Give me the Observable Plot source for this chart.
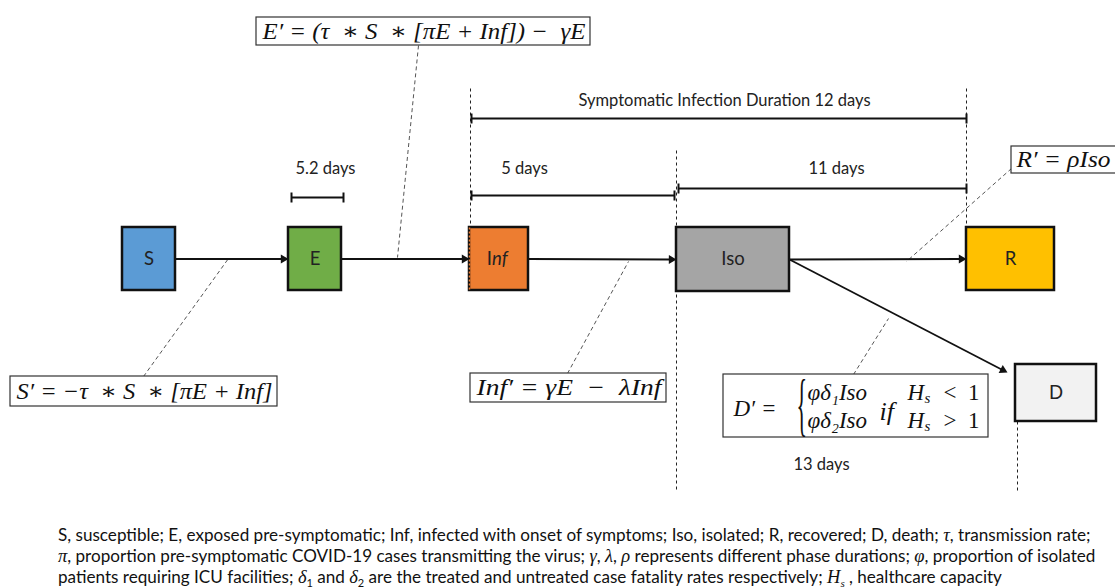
<!DOCTYPE html>
<html><head><meta charset="utf-8">
<script src="https://cdn.jsdelivr.net/npm/d3@7"></script>
<script src="https://cdn.jsdelivr.net/npm/@observablehq/plot@0.6"></script>
<style>
body{margin:0;background:#fff;overflow:hidden}
#chart svg{display:block}
#cap{font-family:Lato,"Open Sans",sans-serif;font-size:17.1px;padding:9px 0 0 58px;color:#111;white-space:nowrap}
#cap div{height:21px;line-height:21px}
#cap i{font-family:"Liberation Serif",serif;font-size:18.5px;line-height:1}
#cap sub{font-size:11px;line-height:0;vertical-align:baseline;position:relative;top:0.35em}
</style></head><body><div id="chart"></div><div id="cap"></div>
<script>
// ---- data ----
const compartments = ["S", "E", "Inf", "Iso", "R", "D"];
const compartmentColors = ["#5B9BD5", "#70AD47", "#ED7D31", "#A5A5A5", "#FFC000", "#F2F2F2"];
const boxLeft   = [122, 288, 469, 676, 966, 1015];
const boxRight  = [175, 341, 528, 789, 1054, 1096];
const boxTop    = [227, 227, 227, 227, 227, 364];
const boxBottom = [290, 290, 290, 291, 290, 421];

const flowFrom = ["S", "E", "Inf", "Iso", "Iso"];
const flowTo   = ["E", "Inf", "Iso", "R", "D"];

const durationLabels = ["5.2 days", "Symptomatic Infection Duration 12 days", "5 days", "11 days", "13 days"];
const durationLabelX = [325, 724, 524, 836, 821];
const durationLabelY = [168, 100, 168, 168, 464];
const barStart = [291, 471, 471, 678];
const barEnd   = [343, 966, 674, 966];
const barY     = [197, 118, 195, 188];

const guideX  = [470, 676, 966, 1017];
const guideY1 = [88, 150, 88, 421];
const guideY2 = [290, 490, 227, 490];

const equations = ["E′ = (τ  ∗ S  ∗ [πE + Inf]) −  γE", "S′ = −τ  ∗ S  ∗ [πE + Inf]", "Inf′ = γE  −  λInf", "R′ = ρIso"];
const eqWidths = [323, 256, 185, 94];
const eqBoxX1 = [256, 10, 470, 1011];
const eqBoxX2 = [590, 277, 666, 1130];
const eqBoxY1 = [17, 376, 373, 146];
const eqBoxY2 = [45, 406, 402, 173];
const eqTextX = [262, 16, 476, 1016];

const dBox = {x1: 723, x2: 988, y1: 374, y2: 437};
// D′ equation pieces
const dLeft = ["D′ =", "φδ₁Iso", "φδ₂Iso", "H", "H"];
const dLeftX = [733, 807, 807, 907, 907];
const dLeftY = [408, 392, 420, 392, 420];
const dIf = {t: "if", x: 879, y: 411};
const dSub = ["s", "s"];
const dSubX = [924, 924];
const dSubY = [398, 426];
const dRight = ["<  1", ">  1"];
const dRightX = [979, 979];
const dRightY = [392, 420];
const dBrace = {t: "{", x: 796, y: 405};

const leaderX1 = [418, 143, 567, 853, 1011];
const leaderY1 = [45, 376, 373, 374, 168];
const leaderX2 = [397, 228, 628, 888, 906];
const leaderY2 = [257, 258, 261, 318, 261];

const captionLines = [
  "S, susceptible; E, exposed pre-symptomatic; Inf, infected with onset of symptoms; Iso, isolated; R, recovered; D, death; <i>τ</i>, transmission rate;",
  "<i>π</i>, proportion pre-symptomatic COVID-19 cases transmitting the virus; <i>γ</i>, <i>λ</i>, <i>ρ</i> represents different phase durations; <i>φ</i>, proportion of isolated",
  "patients requiring ICU facilities; <i>δ</i><sub>1</sub> and <i>δ</i><sub>2</sub> are the treated and untreated case fatality rates respectively; <i>H<sub>s</sub></i> , healthcare capacity"
];

// ---- tables ----
const nodes = compartments.map((id, i) => ({id, fill: compartmentColors[i], x1: boxLeft[i], x2: boxRight[i], y1: boxTop[i], y2: boxBottom[i],
  cx: (boxLeft[i] + boxRight[i]) / 2, cy: (boxTop[i] + boxBottom[i]) / 2}));
const byId = Object.fromEntries(nodes.map(n => [n.id, n]));
const flows = flowFrom.map((f, i) => {
  const a = byId[f], b = byId[flowTo[i]];
  let x1 = a.x2, y1 = a.cy, x2 = b.x1, y2 = b.cy;
  if (b.y1 > a.y2) { x2 = b.x1 - 8; y2 = b.y1 + 8; }
  const L = Math.hypot(x2 - x1, y2 - y1), ux = (x2 - x1) / L, uy = (y2 - y1) / L;
  return {x1, y1, x2, y2, lx: x2 - ux * 5, ly: y2 - uy * 5, hx: x2 - ux * 5.1, hy: y2 - uy * 5.1,
    angle: Math.atan2(uy, ux) * 180 / Math.PI + 90};
});
const labels = durationLabels.map((t, i) => ({t, x: durationLabelX[i], y: durationLabelY[i]}));
const bars = barStart.map((s, i) => ({x1: s, x2: barEnd[i], y: barY[i]}));
const caps = bars.flatMap(b => [{x: b.x1, y: b.y}, {x: b.x2, y: b.y}]);
const guides = guideX.map((x, i) => ({x, y1: guideY1[i], y2: guideY2[i]}));
const eqs = equations.map((t, i) => ({t, x1: eqBoxX1[i], x2: eqBoxX2[i], y1: eqBoxY1[i], y2: eqBoxY2[i], tx: eqTextX[i], ty: (eqBoxY1[i] + eqBoxY2[i]) / 2}));
const dl = dLeft.map((t, i) => ({t, x: dLeftX[i], y: dLeftY[i]}));
const ds = dSub.map((t, i) => ({t, x: dSubX[i], y: dSubY[i]}));
const dr = dRight.map((t, i) => ({t, x: dRightX[i], y: dRightY[i]}));
const leaders = leaderX1.map((x, i) => ({x1: x, y1: leaderY1[i], x2: leaderX2[i], y2: leaderY2[i]}));

const W = 1115, H = 515;
const sans = "Lato, 'Open Sans', sans-serif";
const serif = "'Liberation Serif', 'DejaVu Serif', serif";
const chart = Plot.plot({
  width: W, height: H, margin: 0,
  x: {domain: [0, W], range: [0, W], axis: null},
  y: {domain: [0, H], range: [0, H], axis: null},
  marks: [
    Plot.link(guides, {x1: "x", x2: "x", y1: "y1", y2: "y2", stroke: "#222", strokeWidth: 1, strokeDasharray: "3,3"}),
    Plot.link(leaders, {x1: "x1", y1: "y1", x2: "x2", y2: "y2", stroke: "#555", strokeWidth: 1, strokeDasharray: "4,3"}),
    Plot.link(bars, {x1: "x1", x2: "x2", y1: "y", y2: "y", stroke: "#111", strokeWidth: 2}),
    Plot.link(caps, {x1: "x", x2: "x", y1: d => d.y - 5, y2: d => d.y + 5, stroke: "#111", strokeWidth: 2}),
    Plot.text(labels, {x: "x", y: "y", text: "t", fontFamily: sans, fontSize: 16.5, fill: "#222"}),
    Plot.link(flows, {x1: "x1", y1: "y1", x2: "lx", y2: "ly", stroke: "#111", strokeWidth: 1.8}),
    Plot.dot(flows, {x: "hx", y: "hy", symbol: "triangle", r: 3.3, rotate: "angle", fill: "#111", stroke: "none"}),
    Plot.rect(nodes, {x1: "x1", x2: "x2", y1: "y1", y2: "y2", fill: "fill", stroke: "#111", strokeWidth: 2.5}),
    Plot.link(nodes.filter(n => n.id === "Inf"), {x1: "x1", x2: "x1", y1: "y1", y2: "y2", stroke: "#ED7D31", strokeWidth: 1.5, strokeDasharray: "2,2"}),
    Plot.text(nodes.filter(n => n.id !== "Inf"), {x: "cx", y: "cy", text: "id", fontFamily: sans, fontSize: 18.5, fill: "#222"}),
    Plot.text(nodes.filter(n => n.id === "Inf"), {x: d => d.cx - 7, y: "cy", text: () => "I", textAnchor: "end", fontFamily: sans, fontSize: 18.5, fill: "#222"}),
    Plot.text(nodes.filter(n => n.id === "Inf"), {x: d => d.cx - 7, y: "cy", text: () => "nf", textAnchor: "start", fontFamily: sans, fontStyle: "italic", fontSize: 18.5, fill: "#222"}),
    Plot.rect(eqs, {x1: "x1", x2: "x2", y1: "y1", y2: "y2", fill: "white", stroke: "#333", strokeWidth: 1.2}),
    Plot.text(eqs, {x: "tx", y: "ty", text: "t", textAnchor: "start", fontFamily: serif, fontStyle: "italic", fontSize: 23, fill: "#111", className: "eqtext"}),
    Plot.rect([dBox], {x1: "x1", x2: "x2", y1: "y1", y2: "y2", fill: "white", stroke: "#333", strokeWidth: 1.2}),
    Plot.text(dl, {x: "x", y: "y", text: "t", textAnchor: "start", fontFamily: serif, fontStyle: "italic", fontSize: 23, fill: "#111"}),
    Plot.text([dIf], {x: "x", y: "y", text: "t", textAnchor: "start", fontFamily: serif, fontStyle: "italic", fontSize: 26, fill: "#111"}),
    Plot.text(ds, {x: "x", y: "y", text: "t", textAnchor: "start", fontFamily: serif, fontStyle: "italic", fontSize: 15, fill: "#111"}),
    Plot.text(dr, {x: "x", y: "y", text: "t", textAnchor: "end", fontFamily: serif, fontSize: 23, fill: "#111"}),
    Plot.text([dBrace], {x: "x", y: "y", text: "t", textAnchor: "start", fontFamily: serif, fontSize: 44, fill: "#111", className: "brace"})
  ]
});
chart.querySelectorAll("g.eqtext text").forEach((el, i) => {
  el.setAttribute("textLength", eqWidths[i]);
  el.setAttribute("lengthAdjust", "spacingAndGlyphs");
});
chart.querySelectorAll("g.brace text").forEach(el => {
  const t = el.getAttribute("transform");
  if (t) el.setAttribute("transform", t + " scale(0.5,1.6)");
  else {
    const x = +el.getAttribute("x") || 0, y = +el.getAttribute("y") || 0;
    el.setAttribute("transform", `translate(${x},${y}) scale(0.5,1.6)`);
    el.removeAttribute("x"); el.removeAttribute("y");
  }
});
document.getElementById("chart").append(chart);
document.getElementById("cap").innerHTML = captionLines.map(l => `<div>${l}</div>`).join("");
</script></body></html>
